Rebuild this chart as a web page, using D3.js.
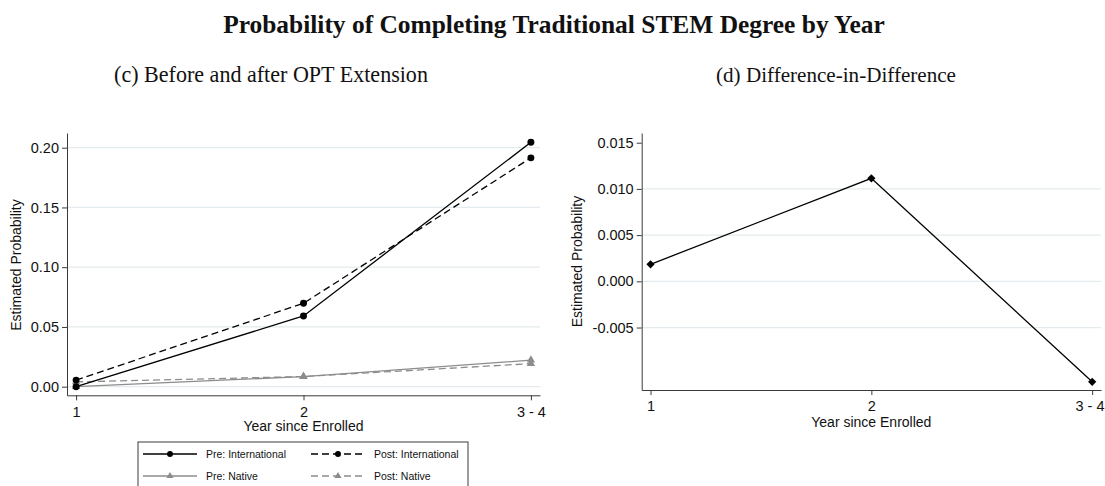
<!DOCTYPE html>
<html>
<head>
<meta charset="utf-8">
<script src="https://cdn.jsdelivr.net/npm/d3@7"></script>
<style>
  html, body { margin: 0; padding: 0; background: #fff; }
  svg { display: block; }
  .tick text { font-family: "Liberation Sans", Arial, sans-serif; font-size: 14.5px; fill: #111; }
</style>
</head>
<body>
<svg id="chart" width="1105" height="486"></svg>
<script>
// ---- Data ----
const years = ["1", "2", "3 - 4"];

// Panel (c): estimated probability by group, before and after the OPT extension
const preInternational  = [0.000, 0.0592, 0.2045];
const postInternational = [0.0055, 0.0698, 0.1915];
const preNative         = [0.000, 0.0085, 0.0222];
const postNative        = [0.004, 0.0085, 0.0193];

// Panel (d): difference-in-difference estimate
const didEstimate = [0.00184, 0.01115, -0.01087];

// Axis ticks
const leftTicks = [0, 0.05, 0.10, 0.15, 0.20];
const leftTickLabels = ["0.00", "0.05", "0.10", "0.15", "0.20"];
const rightTicks = [-0.005, 0, 0.005, 0.010, 0.015];
const rightTickLabels = ["-0.005", "0.000", "0.005", "0.010", "0.015"];
const rightGrid = [-0.005, 0, 0.005, 0.010];

const legendLabels = ["Pre: International", "Post: International", "Pre: Native", "Post: Native"];

// ---- Drawing ----
const svg = d3.select("#chart");
const serif = "'Liberation Serif', 'DejaVu Serif', serif";
const sans = "'Liberation Sans', Arial, sans-serif";
const GRID = "#e3ebee";
const AXIS = "#3a3a3a";
const GRAY = "#8c8c8c";

function fitText(sel, width) {
  const w = sel.node().getComputedTextLength();
  const fs = parseFloat(sel.attr("font-size"));
  sel.attr("font-size", fs * width / w);
}

// Titles
fitText(svg.append("text")
  .attr("x", 554).attr("y", 33).attr("text-anchor", "middle")
  .attr("font-family", serif).attr("font-weight", "bold").attr("font-size", 24)
  .attr("fill", "#111")
  .text("Probability of Completing Traditional STEM Degree by Year"), 662);

fitText(svg.append("text")
  .attr("x", 271).attr("y", 82).attr("text-anchor", "middle")
  .attr("font-family", serif).attr("font-size", 19).attr("fill", "#111")
  .text("(c) Before and after OPT Extension"), 314);

fitText(svg.append("text")
  .attr("x", 836).attr("y", 82).attr("text-anchor", "middle")
  .attr("font-family", serif).attr("font-size", 19).attr("fill", "#111")
  .text("(d) Difference-in-Difference"), 240);

function panel(opts) {
  const x = d3.scalePoint().domain(years).range([opts.x0, opts.x1]).padding(0.04);
  const y = d3.scaleLinear().domain(opts.yDomain).range([opts.y1, opts.y0]);
  const g = svg.append("g");

  // gridlines
  g.append("g").selectAll("line").data(opts.grid).join("line")
    .attr("x1", opts.x0).attr("x2", opts.x1)
    .attr("y1", d => y(d)).attr("y2", d => y(d))
    .attr("stroke", GRID).attr("stroke-width", 1.2);

  // axes
  const ya = g.append("g").attr("transform", `translate(${opts.x0},0)`)
    .call(d3.axisLeft(y).tickValues(opts.ticks)
      .tickFormat((d, i) => opts.tickLabels[i])
      .tickSize(5).tickSizeOuter(0).tickPadding(3));
  const xa = g.append("g").attr("transform", `translate(0,${opts.y1})`)
    .call(d3.axisBottom(x).tickSize(5).tickSizeOuter(0).tickPadding(6));
  [ya, xa].forEach(a => {
    a.select(".domain").attr("stroke", AXIS);
    a.selectAll(".tick line").attr("stroke", AXIS);
  });
  if (opts.clampLastLabel) {
    // keep the last category label inside the page edge
    const last = xa.selectAll(".tick text").filter(d => d === years[years.length - 1]);
    const w = last.node().getComputedTextLength();
    const room = 1104 - x(years[years.length - 1]);
    if (w / 2 > room) last.attr("text-anchor", "end").attr("x", room);
  }

  // axis titles
  g.append("text")
    .attr("x", (x(years[0]) + x(years[2])) / 2).attr("y", opts.y1 + opts.xTitleOffset)
    .attr("text-anchor", "middle").attr("font-family", sans).attr("font-size", 14)
    .attr("fill", "#111").text("Year since Enrolled");
  g.append("text")
    .attr("transform", `translate(${opts.yTitleX},${opts.yTitleY}) rotate(-90)`)
    .attr("text-anchor", "middle").attr("font-family", sans).attr("font-size", 14)
    .attr("fill", "#111").text("Estimated Probability");

  return { g, x, y };
}

// Panel (c)
const pc = panel({
  x0: 67, x1: 540, y0: 133, y1: 395.3,
  yDomain: [-0.0072, 0.2123],
  ticks: leftTicks, tickLabels: leftTickLabels, grid: leftTicks,
  xTitleOffset: 36, yTitleX: 21, yTitleY: 265
});

const seriesC = [
  { values: preNative,         color: GRAY,   dash: null,  marker: "tri" },
  { values: postNative,        color: GRAY,   dash: "7,4", marker: "tri" },
  { values: preInternational,  color: "#000", dash: null,  marker: "dot" },
  { values: postInternational, color: "#000", dash: "7,4", marker: "dot" }
];

const line = (sx, sy) => d3.line().x((d, i) => sx(years[i])).y(d => sy(d));
const triPath = d3.symbol().type(d3.symbolTriangle);
// square turned 45 degrees for a symmetric diamond marker
const diaPath = d3.symbol().type(d3.symbolSquare).size(34);

seriesC.forEach(s => {
  pc.g.append("path").datum(s.values)
    .attr("d", line(pc.x, pc.y))
    .attr("fill", "none").attr("stroke", s.color).attr("stroke-width", 1.3)
    .attr("stroke-dasharray", s.dash);
  const m = pc.g.append("g").selectAll("path").data(s.values).join("path")
    .attr("transform", (d, i) => `translate(${pc.x(years[i])},${pc.y(d)})`)
    .attr("fill", s.color);
  if (s.marker === "dot") m.attr("d", d3.symbol().type(d3.symbolCircle).size(38));
  else m.attr("d", triPath.size(30));
});

// Panel (d)
const pd = panel({
  x0: 641.7, x1: 1101, y0: 133, y1: 390,
  yDomain: [-0.01176, 0.01605],
  ticks: rightTicks, tickLabels: rightTickLabels, grid: rightGrid,
  xTitleOffset: 37, yTitleX: 582, yTitleY: 261.5, clampLastLabel: true
});

pd.g.append("path").datum(didEstimate)
  .attr("d", line(pd.x, pd.y))
  .attr("fill", "none").attr("stroke", "#000").attr("stroke-width", 1.3);
pd.g.append("g").selectAll("path").data(didEstimate).join("path")
  .attr("transform", (d, i) => `translate(${pd.x(years[i])},${pd.y(d)}) rotate(45)`)
  .attr("d", diaPath).attr("fill", "#000");

// Legend for panel (c)
const lg = svg.append("g");
lg.append("rect").attr("x", 138).attr("y", 442).attr("width", 330).attr("height", 60)
  .attr("fill", "#fff").attr("stroke", AXIS).attr("stroke-width", 1);

const legendItems = [
  { label: legendLabels[0], color: "#000", dash: null,  marker: "dot", col: 0, row: 0 },
  { label: legendLabels[1], color: "#000", dash: "7,4", marker: "dot", col: 1, row: 0 },
  { label: legendLabels[2], color: GRAY,   dash: null,  marker: "tri", col: 0, row: 1 },
  { label: legendLabels[3], color: GRAY,   dash: "7,4", marker: "tri", col: 1, row: 1 }
];
legendItems.forEach(it => {
  const lx = it.col === 0 ? 143 : 311;
  const cy = it.row === 0 ? 454 : 476;
  lg.append("line").attr("x1", lx).attr("x2", lx + 54).attr("y1", cy).attr("y2", cy)
    .attr("stroke", it.color).attr("stroke-width", 1.3).attr("stroke-dasharray", it.dash);
  lg.append("path").attr("transform", `translate(${lx + 27},${cy})`)
    .attr("d", it.marker === "dot" ? d3.symbol().type(d3.symbolCircle).size(28)() : d3.symbol().type(d3.symbolTriangle).size(22)())
    .attr("fill", it.color);
  lg.append("text").attr("x", lx + 63).attr("y", cy + 4)
    .attr("font-family", sans).attr("font-size", 10.5).attr("fill", "#111")
    .text(it.label);
});
</script>
</body>
</html>
